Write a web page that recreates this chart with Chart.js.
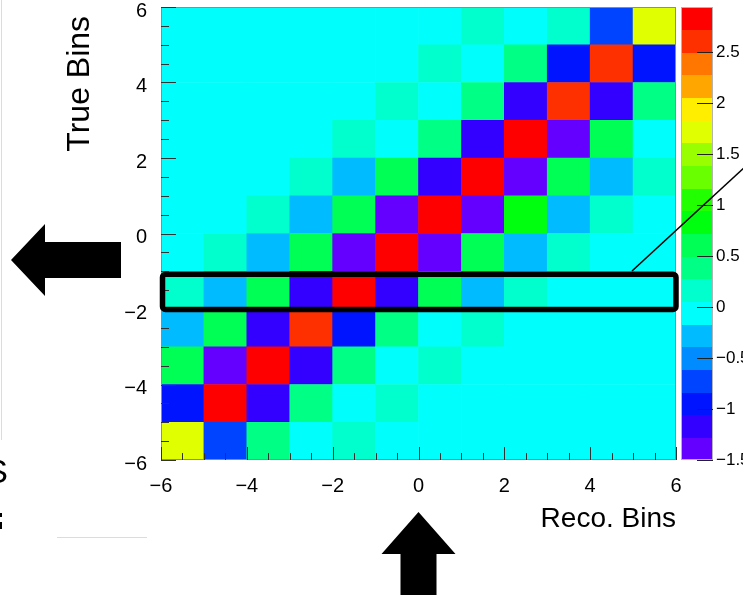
<!DOCTYPE html>
<html>
<head>
<meta charset="utf-8">
<title>Reco vs True Bins</title>
<script src="https://cdn.jsdelivr.net/npm/chart.js@4.4.1/dist/chart.umd.min.js"></script>
<style>
  html, body { margin: 0; padding: 0; background: #fff; }
  #wrap { position: relative; width: 743px; height: 595px; overflow: hidden; }
  canvas { display: block; }
</style>
</head>
<body>
<div id="wrap"><canvas id="c" width="743" height="595"></canvas></div>
<script>
// Bin edges: reconstructed (x) and true (y)
const recoEdges = [-6, -5, -4, -3, -2, -1, 0, 1, 2, 3, 4, 5, 6];
const trueEdges = [-6, -5, -4, -3, -2, -1, 0, 1, 2, 3, 4, 5, 6];

// Tick labels of the frame axes and of the palette axis
const axisTicks = [-6, -4, -2, 0, 2, 4, 6];
const zTicks = [-1.5, -1, -0.5, 0, 0.5, 1, 1.5, 2, 2.5];

// Palette range and number of contour levels
const zRange = [-1.5, 2.94];
const nContours = 20;

// Bin contents, one array per true bin, reco bins from x=-6 to x=6
const trueBin5  = [0, 0, 0, 0, 0, 0, 0, 0.17, 0, 0.15, -0.72, 1.72];
const trueBin4  = [0, 0, 0, 0, 0, 0, 0.15, 0, 0.42, -0.95, 2.6, -0.95];
const trueBin3  = [0, 0, 0, 0, 0, 0.16, 0, 0.4, -1.15, 2.62, -1.18, 0.38];
const trueBin2  = [0, 0, 0, 0, 0.17, 0, 0.42, -1.2, 2.85, -1.38, 0.6, 0];
const trueBin1  = [0, 0, 0, 0.15, -0.3, 0.62, -1.17, 2.9, -1.4, 0.63, -0.28, 0.14];
const trueBin0  = [0, 0, 0.16, -0.28, 0.6, -1.4, 2.94, -1.38, 0.85, -0.3, 0.16, 0];
const trueBinM1 = [0, 0.16, -0.28, 0.62, -1.38, 2.88, -1.4, 0.6, -0.29, 0.15, 0, 0];
const trueBinM2 = [0.15, -0.3, 0.63, -1.18, 2.86, -1.16, 0.58, -0.28, 0.17, 0, 0, 0];
const trueBinM3 = [-0.3, 0.6, -1.17, 2.6, -0.95, 0.4, 0, 0.15, 0, 0, 0, 0];
const trueBinM4 = [0.62, -1.39, 2.84, -1.15, 0.4, 0, 0.16, 0, 0, 0, 0, 0];
const trueBinM5 = [-0.94, 2.82, -1.16, 0.41, 0, 0.15, 0, 0, 0, 0, 0, 0];
const trueBinM6 = [1.72, -0.72, 0.39, 0, 0.16, 0, 0, 0, 0, 0, 0, 0];

// ordered from the lowest true bin to the highest
const trueRows = [trueBinM6, trueBinM5, trueBinM4, trueBinM3, trueBinM2, trueBinM1,
                  trueBin0, trueBin1, trueBin2, trueBin3, trueBin4, trueBin5];

// 50-colour rainbow palette (violet -> red), picked per contour level
function paletteColor(idx) {
  if (idx >= 49) return 'rgb(255,0,0)';
  const hue = 280 - (idx + 1) * 5.6;
  return 'hsl(' + hue.toFixed(2) + ',100%,50%)';
}
function colorFor(v) {
  const scale = nContours / (zRange[1] - zRange[0]);
  let level = Math.floor(0.01 + (v - zRange[0]) * scale);
  level = Math.max(0, Math.min(nContours - 1, level));
  let idx = Math.floor((level + 0.99) * 50 / nContours);
  if (idx > 49) idx = 49;
  return paletteColor(idx);
}

const minus = v => (v < 0 ? '\u2212' : '') + Math.abs(v);
const FONT = '"Liberation Sans", Arial, Helvetica, sans-serif';

// one floating-bar dataset per true bin; each bar spans one cell
const datasets = trueRows.map((vals, k) => ({
  data: vals.map((v, j) => ({
    x: (recoEdges[j] + recoEdges[j + 1]) / 2,
    y: [trueEdges[k], trueEdges[k + 1]]
  })),
  backgroundColor: vals.map(colorFor),
  borderWidth: 0,
  grouped: false,
  barPercentage: 1,
  categoryPercentage: 1
}));

function zeroPad(s) { s.paddingTop = 0; s.paddingBottom = 0; s.paddingLeft = 0; s.paddingRight = 0; }

const decorations = {
  id: 'decorations',
  afterDraw(chart) {
    const { ctx, chartArea: a } = chart;
    const { x, y, z } = chart.scales;
    const seg = (x1, y1, x2, y2) => { ctx.beginPath(); ctx.moveTo(x1, y1); ctx.lineTo(x2, y2); ctx.stroke(); };
    ctx.save();

    // palette bar
    const cbL = a.right + 5, cbR = a.right + 37;
    const dz = (zRange[1] - zRange[0]) / nContours;
    for (let k = 0; k < nContours; k++) {
      const lo = zRange[0] + k * dz, hi = lo + dz;
      const yt = z.getPixelForValue(hi), yb = z.getPixelForValue(lo);
      ctx.fillStyle = colorFor(lo + dz / 2);
      ctx.fillRect(cbL, Math.floor(yt), cbR - cbL, Math.ceil(yb) - Math.floor(yt));
    }
    ctx.strokeStyle = '#b4b4b4';
    ctx.lineWidth = 1;
    ctx.strokeRect(cbL + 0.5, a.top + 0.5, cbR - cbL - 1, a.bottom - a.top - 1);
    ctx.strokeStyle = '#222';
    zTicks.forEach(v => {
      const py = Math.round(z.getPixelForValue(v)) + 0.5;
      seg(cbR - 16, py, cbR, py);
    });

    // frame
    ctx.strokeStyle = '#8c8c8c';
    ctx.strokeRect(a.left + 0.5, a.top + 0.5, a.right - a.left - 1, a.bottom - a.top - 1);

    // inward tick marks, major every 2, minor every 0.5
    ctx.strokeStyle = '#333';
    for (let i = 0; i <= 24; i++) {
      const v = -6 + i * 0.5;
      const major = i % 4 === 0;
      const py = Math.round(y.getPixelForValue(v)) + 0.5;
      seg(a.left, py, a.left + (major ? 15 : 8), py);
      const px = Math.round(x.getPixelForValue(v)) + 0.5;
      seg(px, a.bottom, px, a.bottom - (major ? 13 : 7));
    }

    // highlighted true-bin row
    ctx.strokeStyle = '#000';
    ctx.lineWidth = 5.5;
    ctx.lineJoin = 'round';
    const bx1 = x.getPixelForValue(-6) + 1.5, bx2 = x.getPixelForValue(6);
    const by1 = y.getPixelForValue(-1) + 3, by2 = y.getPixelForValue(-2) + 0.5;
    ctx.beginPath();
    ctx.roundRect(bx1, by1, bx2 - bx1, by2 - by1, 3);
    ctx.stroke();

    // pointer line from the box
    ctx.lineWidth = 1.6;
    seg(632, 271, 746, 166);

    // arrows
    ctx.fillStyle = '#000';
    ctx.beginPath();
    ctx.moveTo(11, 260);
    ctx.lineTo(45, 224); ctx.lineTo(45, 242); ctx.lineTo(121, 242);
    ctx.lineTo(121, 278); ctx.lineTo(45, 278); ctx.lineTo(45, 296);
    ctx.closePath();
    ctx.fill();

    const ax = x.getPixelForValue(0);
    ctx.beginPath();
    ctx.moveTo(ax, 512);
    ctx.lineTo(ax + 37, 554); ctx.lineTo(ax + 18, 554); ctx.lineTo(ax + 18, 600);
    ctx.lineTo(ax - 18, 600); ctx.lineTo(ax - 18, 554); ctx.lineTo(ax - 37, 554);
    ctx.closePath();
    ctx.fill();

    // page edge remnants on the left
    ctx.strokeStyle = '#dcdcdc';
    ctx.lineWidth = 1;
    seg(1.5, 0, 1.5, 440);
    seg(57, 537.5, 147, 537.5);
    ctx.fillStyle = '#000';
    ctx.font = '34px ' + FONT;
    ctx.textAlign = 'right';
    ctx.textBaseline = 'middle';
    ctx.fillText('S', 8, 474);
    ctx.fillRect(0, 513, 2, 4);
    ctx.fillRect(0, 522, 2, 7);

    ctx.restore();
  }
};

new Chart(document.getElementById('c'), {
  type: 'bar',
  data: { datasets },
  plugins: [decorations],
  options: {
    responsive: false,
    animation: false,
    events: [],
    devicePixelRatio: 1,
    layout: { padding: { top: 7, left: 0, right: 0, bottom: 0 } },
    plugins: { legend: { display: false }, tooltip: { enabled: false } },
    scales: {
      x: {
        type: 'linear', position: 'bottom', min: -6, max: 6, offset: false,
        afterBuildTicks: s => { s.ticks = axisTicks.map(v => ({ value: v })); },
        afterFit: s => { s.height = 135; zeroPad(s); },
        grid: { display: false, drawTicks: false, offset: false },
        border: { display: false },
        ticks: { padding: 14, color: '#000', maxRotation: 0, autoSkip: false,
                 font: { family: FONT, size: 20 }, callback: v => minus(v) },
        title: { display: true, text: 'Reco. Bins', align: 'end', color: '#000',
                 font: { family: FONT, size: 28 }, padding: { top: 0, bottom: 59 } }
      },
      y: {
        type: 'linear', position: 'left', min: -6, max: 6,
        afterBuildTicks: s => { s.ticks = axisTicks.map(v => ({ value: v })); },
        afterFit: s => { s.width = 161; zeroPad(s); },
        grid: { display: false, drawTicks: false },
        border: { display: false },
        ticks: { padding: 14, color: '#000', labelOffset: 4, autoSkip: false,
                 font: { family: FONT, size: 20 }, callback: v => minus(v) },
        title: { display: true, text: 'True Bins ', align: 'end', color: '#000',
                 font: { family: FONT, size: 32 }, padding: { top: 61, bottom: 0 } }
      },
      z: {
        type: 'linear', position: 'right', min: zRange[0], max: zRange[1],
        afterBuildTicks: s => { s.ticks = zTicks.map(v => ({ value: v })); },
        afterFit: s => { s.width = 67; zeroPad(s); },
        grid: { display: false, drawTicks: false },
        border: { display: false },
        ticks: { padding: 40, color: '#000', autoSkip: false, includeBounds: false,
                 font: { family: FONT, size: 17 }, callback: v => minus(v) }
      }
    }
  }
});
</script>
</body>
</html>
